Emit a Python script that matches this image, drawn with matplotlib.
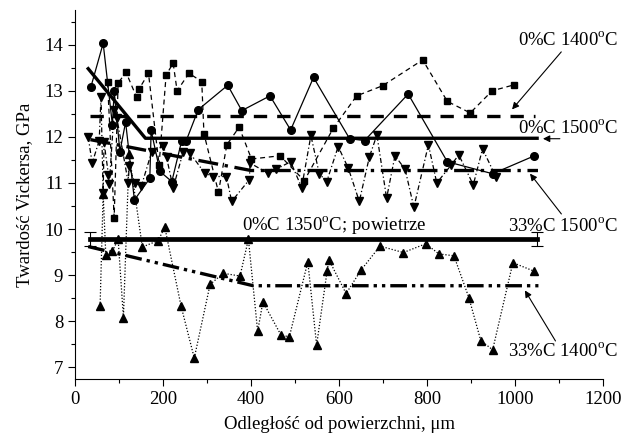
import matplotlib
matplotlib.use("Agg")
import matplotlib.pyplot as plt
from matplotlib.ticker import MultipleLocator

plt.rcParams["font.family"] = ["Liberation Serif", "DejaVu Serif"]
plt.rcParams["mathtext.fontset"] = "custom"
plt.rcParams["mathtext.rm"] = "Liberation Serif"

# 0%C 1500C - circles
x_c = [36, 64, 85, 89, 102, 115, 135, 170, 173, 193, 220, 242, 252, 280, 347, 379,
       443, 490, 542, 624, 658, 757, 846, 949, 1044]
y_c = [13.08, 14.03, 12.26, 13.0, 11.68, 12.32, 10.63, 11.1, 12.14, 11.25, 11.03, 11.9,
       11.9, 12.59, 13.12, 12.57, 12.89, 12.15, 13.29, 11.96, 11.92, 12.93, 11.46, 11.2, 11.59]

# 0%C 1400C - squares
x_s = [74, 89, 98, 116, 140, 145, 167, 191, 207, 223, 232, 259, 288, 293, 326, 345,
       373, 401, 466, 521, 587, 640, 699, 790, 846, 898, 948, 998]
y_s = [13.18, 10.25, 13.17, 13.4, 12.86, 13.03, 13.38, 11.39, 13.34, 13.6, 13.0, 13.38,
       13.2, 12.07, 10.8, 11.83, 12.21, 11.52, 11.59, 11.05, 12.19, 12.89, 13.11, 13.67,
       12.77, 12.52, 13.0, 13.13]

# 33%C 1500C - inverted triangles
x_v = [30, 39, 55, 59, 64, 66, 76, 78, 89, 95, 121, 123, 136, 151, 174, 201, 208, 223,
       246, 261, 295, 313, 344, 356, 396, 398, 439, 457, 490, 515, 536, 555, 572, 598,
       621, 646, 669, 686, 708, 727, 750, 770, 803, 822, 854, 872, 905, 926, 956]
y_v = [12.0, 11.43, 11.92, 12.86, 10.78, 11.88, 11.18, 10.97, 12.59, 12.42, 11.0, 11.36,
       11.0, 10.94, 11.67, 11.8, 11.56, 10.89, 11.68, 11.65, 11.21, 11.14, 11.14, 10.6,
       11.07, 11.43, 11.21, 11.3, 11.46, 10.9, 12.03, 11.2, 11.03, 11.79, 11.32, 10.6,
       11.57, 12.04, 10.67, 11.59, 11.3, 10.47, 11.83, 11.0, 11.38, 11.61, 10.96, 11.74,
       11.14]

# 33%C 1400C - triangles
x_t = [57, 64, 70, 85, 98, 110, 123, 153, 189, 204, 241, 271, 307, 337, 375, 394, 415,
       427, 468, 487, 529, 549, 573, 577, 616, 650, 693, 746, 797, 827, 861, 895, 922,
       949, 995, 1042]
y_t = [8.33, 10.76, 9.43, 9.52, 9.78, 8.08, 11.63, 9.61, 9.75, 10.04, 8.33, 7.2, 8.8,
       9.04, 8.98, 9.78, 7.78, 8.42, 7.7, 7.66, 9.29, 7.48, 9.1, 9.33, 8.6, 9.11, 9.63,
       9.49, 9.68, 9.46, 9.42, 8.51, 7.58, 7.38, 9.27, 9.09]

# trend lines
trend_c_x = [30, 160, 1050]
trend_c_y = [13.48, 11.97, 11.97]
trend_s_x = [35, 1045]
trend_s_y = [12.46, 12.46]
trend_v_x = [35, 400, 1052]
trend_v_y = [11.94, 11.27, 11.27]
trend_t_x = [30, 405, 1053]
trend_t_y = [9.62, 8.77, 8.77]
air_x = [33, 1049]
air_y = [9.78, 9.78]
air_err = 0.15

fig = plt.figure(figsize=(6.25, 4.41), dpi=100)
ax = fig.add_axes([0.12, 0.141, 0.845, 0.836])

k = "black"
ax.plot(x_c, y_c, color=k, lw=0.9, ls="-", marker="o", ms=5.5)
ax.plot(x_s, y_s, color=k, lw=0.9, ls=(0, (4, 3)), marker="s", ms=4.6)
ax.plot(x_v, y_v, color=k, lw=0.9, ls=(0, (4, 2, 1, 2)), marker="v", ms=6)
ax.plot(x_t, y_t, color=k, lw=0.9, ls=(0, (1, 1.5)), marker="^", ms=6)

ax.plot(trend_c_x, trend_c_y, color=k, lw=2.4, ls="-")
ax.plot(trend_s_x, trend_s_y, color=k, lw=2.4, ls=(0, (4, 3)))
ax.plot(trend_v_x, trend_v_y, color=k, lw=2.4, ls=(0, (6, 2, 1, 2)))
ax.plot(trend_t_x, trend_t_y, color=k, lw=2.4, ls=(0, (5, 1.5, 1, 1.5, 1, 1.5)))
ax.plot(air_x, air_y, color=k, lw=3.4, ls="-")
ax.errorbar(air_x, air_y, yerr=air_err, fmt="none", ecolor=k, elinewidth=0.8,
            capsize=4.5, capthick=0.8)

ax.set_xlim(0, 1200)
ax.set_ylim(6.75, 14.75)
ax.xaxis.set_major_locator(MultipleLocator(200))
ax.xaxis.set_minor_locator(MultipleLocator(100))
ax.yaxis.set_major_locator(MultipleLocator(1))
ax.yaxis.set_minor_locator(MultipleLocator(0.5))
ax.spines["top"].set_visible(False)
ax.spines["right"].set_visible(False)
ax.tick_params(which="major", length=5, width=0.8, labelsize=13.5)
ax.tick_params(which="minor", length=3, width=0.8)

ax.set_xlabel("Odległość od powierzchni, μm", fontsize=13.5, labelpad=6)
ax.set_ylabel("Twardość Vickersa, GPa", fontsize=13.5, labelpad=8)

fs = 13.5
ap = dict(arrowstyle="-|>", color=k, lw=0.8, mutation_scale=10)

ax.text(1007, 14.11, r"0%C 1400$^{\rm o}$C", fontsize=fs, ha="left", va="center",
        clip_on=False)
ax.annotate("", xy=(989, 12.55), xytext=(1109, 13.89), arrowprops=ap,
            annotation_clip=False)

ax.text(1007, 12.2, r"0%C 1500$^{\rm o}$C", fontsize=fs, ha="left", va="center",
        clip_on=False)
ax.annotate("", xy=(1057, 11.96), xytext=(1108, 11.96), arrowprops=ap,
            annotation_clip=False)

ax.text(984, 10.07, r"33%C 1500$^{\rm o}$C", fontsize=fs, ha="left", va="center",
        clip_on=False)
ax.annotate("", xy=(1030, 11.25), xytext=(1109, 10.28), arrowprops=ap,
            annotation_clip=False)

ax.text(984, 7.35, r"33%C 1400$^{\rm o}$C", fontsize=fs, ha="left", va="center",
        clip_on=False)
ax.annotate("", xy=(1019, 8.72), xytext=(1095, 7.52), arrowprops=ap,
            annotation_clip=False)

ax.text(589, 9.85, r"0%C 1350$^{\rm o}$C; powietrze", fontsize=fs, ha="center",
        va="bottom")

fig.savefig("out.png", dpi=100)
